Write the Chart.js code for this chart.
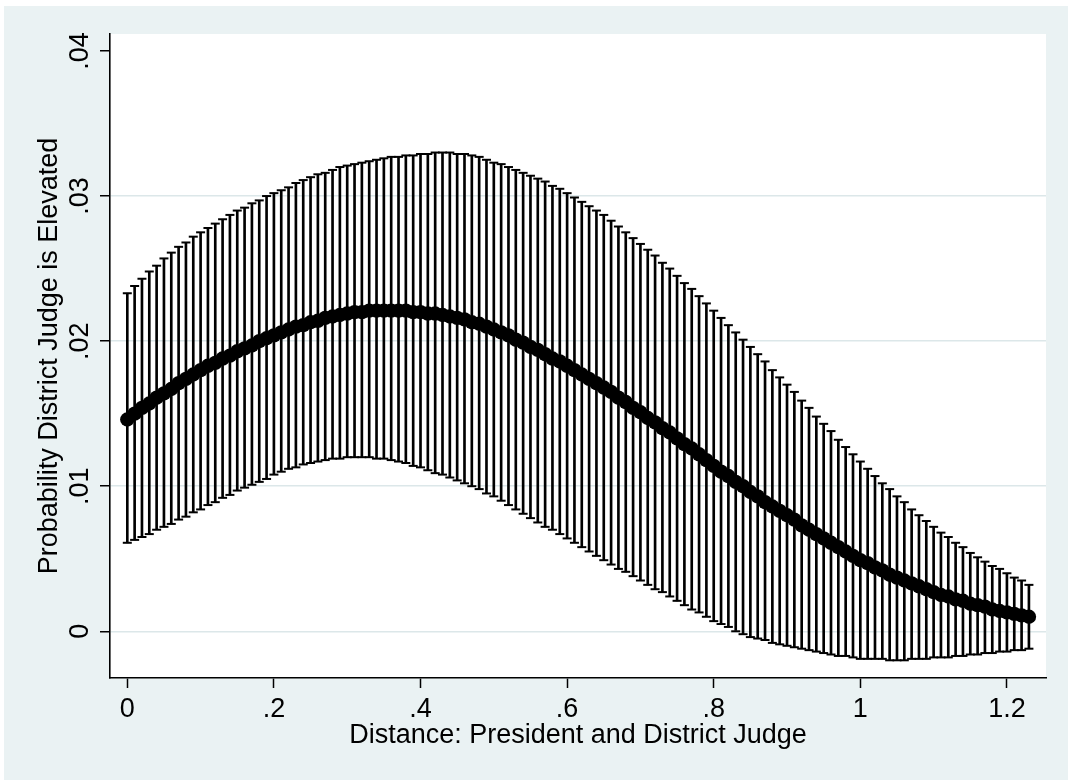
<!DOCTYPE html>
<html>
<head>
<meta charset="utf-8">
<script src="https://cdn.jsdelivr.net/npm/chart.js@4.4.1/dist/chart.umd.min.js"></script>
<style>
html,body{margin:0;padding:0;background:#ffffff;}
#wrap{width:1068px;height:780px;position:relative;}
canvas{display:block;}
</style>
</head>
<body>
<div id="wrap"><canvas id="c" width="1068" height="780"></canvas></div>
<script>
const distance = [
0.00,0.01,0.02,0.03,0.04,0.05,0.06,0.07,0.08,0.09,
0.10,0.11,0.12,0.13,0.14,0.15,0.16,0.17,0.18,0.19,
0.20,0.21,0.22,0.23,0.24,0.25,0.26,0.27,0.28,0.29,
0.30,0.31,0.32,0.33,0.34,0.35,0.36,0.37,0.38,0.39,
0.40,0.41,0.42,0.43,0.44,0.45,0.46,0.47,0.48,0.49,
0.50,0.51,0.52,0.53,0.54,0.55,0.56,0.57,0.58,0.59,
0.60,0.61,0.62,0.63,0.64,0.65,0.66,0.67,0.68,0.69,
0.70,0.71,0.72,0.73,0.74,0.75,0.76,0.77,0.78,0.79,
0.80,0.81,0.82,0.83,0.84,0.85,0.86,0.87,0.88,0.89,
0.90,0.91,0.92,0.93,0.94,0.95,0.96,0.97,0.98,0.99,
1.00,1.01,1.02,1.03,1.04,1.05,1.06,1.07,1.08,1.09,
1.10,1.11,1.12,1.13,1.14,1.15,1.16,1.17,1.18,1.19,
1.20,1.21,1.22,1.23];

const meanProb = [
0.0146,0.0150,0.0154,0.0157,0.0161,0.0164,
0.0167,0.0171,0.0174,0.0177,0.0180,
0.0183,0.0185,0.0188,0.0190,0.0193,
0.0195,0.0197,0.0200,0.0202,0.0204,
0.0206,0.0208,0.0210,0.0211,0.0213,
0.0214,0.0216,0.0217,0.0218,0.0219,
0.0220,0.0220,0.0221,0.0221,0.0221,
0.0221,0.0221,0.0221,0.0220,0.0220,
0.0219,0.0219,0.0218,0.0217,0.0216,
0.0215,0.0213,0.0212,0.0210,0.0208,
0.0206,0.0204,0.0201,0.0199,0.0196,
0.0194,0.0191,0.0188,0.0186,0.0183,
0.0180,0.0177,0.0174,0.0171,0.0168,
0.0165,0.0161,0.0158,0.0154,0.0151,
0.0147,0.0144,0.0140,0.0137,0.0133,
0.0129,0.0126,0.0122,0.0118,0.0114,
0.0110,0.0107,0.0103,0.0100,0.0096,
0.0093,0.0089,0.0086,0.0083,0.0080,
0.0077,0.0073,0.0070,0.0067,0.0064,
0.0061,0.0058,0.0055,0.0052,0.0049,
0.0047,0.0044,0.0042,0.0039,0.0037,
0.0035,0.0033,0.0031,0.0029,0.0027,
0.0025,0.0024,0.0022,0.0021,0.0019,
0.0018,0.0017,0.0015,0.0014,0.0013,
0.0012,0.0011,0.0010];

const upperCI = [
0.0233,0.0238,0.0243,0.0248,0.0252,0.0257,
0.0261,0.0265,0.0268,0.0272,0.0275,
0.0278,0.0281,0.0284,0.0287,0.0290,
0.0292,0.0295,0.0297,0.0300,0.0302,
0.0304,0.0306,0.0309,0.0311,0.0313,
0.0315,0.0316,0.0318,0.0320,0.0321,
0.0322,0.0323,0.0324,0.0325,0.0326,
0.0327,0.0327,0.0328,0.0328,0.0329,
0.0329,0.0330,0.0330,0.0330,0.0329,
0.0329,0.0328,0.0327,0.0325,0.0323,
0.0322,0.0320,0.0318,0.0316,0.0314,
0.0312,0.0310,0.0307,0.0305,0.0302,
0.0299,0.0296,0.0293,0.0290,0.0287,
0.0283,0.0279,0.0275,0.0271,0.0267,
0.0263,0.0259,0.0254,0.0250,0.0245,
0.0240,0.0236,0.0231,0.0226,0.0221,
0.0216,0.0211,0.0206,0.0201,0.0196,
0.0191,0.0186,0.0180,0.0175,0.0170,
0.0165,0.0159,0.0154,0.0148,0.0143,
0.0138,0.0132,0.0127,0.0122,0.0117,
0.0112,0.0107,0.0102,0.0098,0.0093,
0.0089,0.0084,0.0080,0.0076,0.0072,
0.0068,0.0065,0.0061,0.0058,0.0054,
0.0051,0.0048,0.0045,0.0043,0.0040,
0.0037,0.0035,0.0032];

const lowerCI = [
0.0061,0.0063,0.0065,0.0067,0.0070,0.0072,
0.0074,0.0077,0.0079,0.0082,0.0084,
0.0087,0.0089,0.0092,0.0094,0.0097,
0.0099,0.0101,0.0103,0.0105,0.0108,
0.0110,0.0112,0.0113,0.0115,0.0116,
0.0117,0.0118,0.0119,0.0119,0.0120,
0.0120,0.0120,0.0120,0.0119,0.0119,
0.0118,0.0117,0.0116,0.0114,0.0113,
0.0111,0.0109,0.0108,0.0106,0.0104,
0.0102,0.0100,0.0098,0.0095,0.0093,
0.0090,0.0087,0.0084,0.0081,0.0078,
0.0075,0.0072,0.0070,0.0067,0.0064,
0.0061,0.0058,0.0055,0.0052,0.0049,
0.0046,0.0043,0.0041,0.0038,0.0035,
0.0032,0.0029,0.0027,0.0024,0.0021,
0.0018,0.0015,0.0013,0.0010,0.0007,
0.0005,0.0003,0.0000,-0.0002,-0.0004,
-0.0005,-0.0006,-0.0008,-0.0009,-0.0010,
-0.0011,-0.0012,-0.0013,-0.0014,-0.0015,
-0.0016,-0.0017,-0.0017,-0.0018,-0.0019,
-0.0019,-0.0019,-0.0019,-0.0020,-0.0020,
-0.0020,-0.0019,-0.0019,-0.0019,-0.0018,
-0.0018,-0.0018,-0.0017,-0.0017,-0.0016,
-0.0016,-0.0015,-0.0015,-0.0014,-0.0014,
-0.0013,-0.0013,-0.0012];

const xTickValues = [0, 0.2, 0.4, 0.6, 0.8, 1, 1.2];
const xTickLabels = ['0', '.2', '.4', '.6', '.8', '1', '1.2'];
const yTickValues = [0, 0.01, 0.02, 0.03, 0.04];
const yTickLabels = ['0', '.01', '.02', '.03', '.04'];
const xTitle = 'Distance: President and District Judge';
const yTitle = 'Probability District Judge is Elevated';

const FONT = "'Liberation Sans', Arial, Helvetica, sans-serif";
const OUTER_BG = '#EAF2F3';
const GRID = '#DCE7E9';

const bgPlugin = {
  id: 'stataBg',
  beforeDraw(chart) {
    const {ctx, chartArea: a, width, height} = chart;
    ctx.save();
    ctx.fillStyle = '#ffffff';
    ctx.fillRect(0, 0, width, height);
    ctx.fillStyle = OUTER_BG;
    ctx.fillRect(4, 6, width - 4, height - 6);
    ctx.fillStyle = '#ffffff';
    ctx.fillRect(a.left, a.top, a.right - a.left, a.bottom - a.top);
    ctx.restore();
  }
};

const stems = distance.map((x, i) => ({x: x, y: [lowerCI[i], upperCI[i]]}));
const upperPts = distance.map((x, i) => ({x: x, y: upperCI[i]}));
const lowerPts = distance.map((x, i) => ({x: x, y: lowerCI[i]}));
const meanPts = distance.map((x, i) => ({x: x, y: meanProb[i]}));

new Chart(document.getElementById('c'), {
  type: 'scatter',
  data: {
    datasets: [
      {
        type: 'scatter',
        label: 'mean',
        data: meanPts,
        pointRadius: 7.2,
        pointBackgroundColor: '#000',
        pointBorderWidth: 0,
        pointBorderColor: '#000'
      },
      {
        type: 'scatter',
        label: 'upper',
        data: upperPts,
        pointStyle: 'line',
        pointRadius: 4.5,
        pointBorderWidth: 2,
        pointBorderColor: '#000'
      },
      {
        type: 'scatter',
        label: 'lower',
        data: lowerPts,
        pointStyle: 'line',
        pointRadius: 4.5,
        pointBorderWidth: 2,
        pointBorderColor: '#000'
      },
      {
        type: 'bar',
        label: 'ci',
        data: stems,
        backgroundColor: '#000',
        borderWidth: 0,
        barThickness: 2,
        grouped: false
      }
    ]
  },
  options: {
    responsive: false,
    animation: false,
    events: [],
    layout: {padding: {left: 0, top: 34, right: 22, bottom: 0}},
    plugins: {legend: {display: false}, tooltip: {enabled: false}},
    scales: {
      x: {
        type: 'linear',
        position: 'bottom',
        min: -0.0236,
        max: 1.2533,
        bounds: 'data',
        offset: false,
        afterBuildTicks: s => { s.ticks = xTickValues.map(v => ({value: v})); },
        afterFit: s => { s.height = 102; },
        grid: {offset: false, drawOnChartArea: false, drawTicks: true, tickLength: 10, tickColor: '#000', tickWidth: 1.5},
        border: {display: true, color: '#000', width: 1.6},
        ticks: {
          autoSkip: false, maxRotation: 0, minRotation: 0, padding: 5, color: '#000',
          font: {family: FONT, size: 27},
          callback: (v) => xTickLabels[xTickValues.indexOf(v)]
        },
        title: {display: true, text: xTitle, color: '#000', font: {family: FONT, size: 27}, padding: {top: 0, bottom: 28}}
      },
      y: {
        type: 'linear',
        position: 'left',
        min: -0.00322,
        max: 0.04117,
        bounds: 'data',
        afterBuildTicks: s => { s.ticks = yTickValues.map(v => ({value: v})); },
        afterFit: s => { s.width = 110; },
        grid: {
          drawOnChartArea: true, drawTicks: true, tickLength: 10, tickColor: '#000', tickWidth: 1.5,
          lineWidth: 1.5,
          color: ctx => (ctx.tick && ctx.tick.value === 0.04) ? 'rgba(0,0,0,0)' : GRID
        },
        border: {display: true, color: '#000', width: 1.6},
        ticks: {
          autoSkip: false, minRotation: 90, maxRotation: 90, crossAlign: 'center', padding: 1, color: '#000',
          font: {family: FONT, size: 27},
          callback: (v) => yTickLabels[yTickValues.indexOf(v)]
        },
        title: {display: true, text: yTitle, color: '#000', font: {family: FONT, size: 27}, padding: {top: 33, bottom: 0}}
      }
    }
  },
  plugins: [bgPlugin]
});
</script>
</body>
</html>
